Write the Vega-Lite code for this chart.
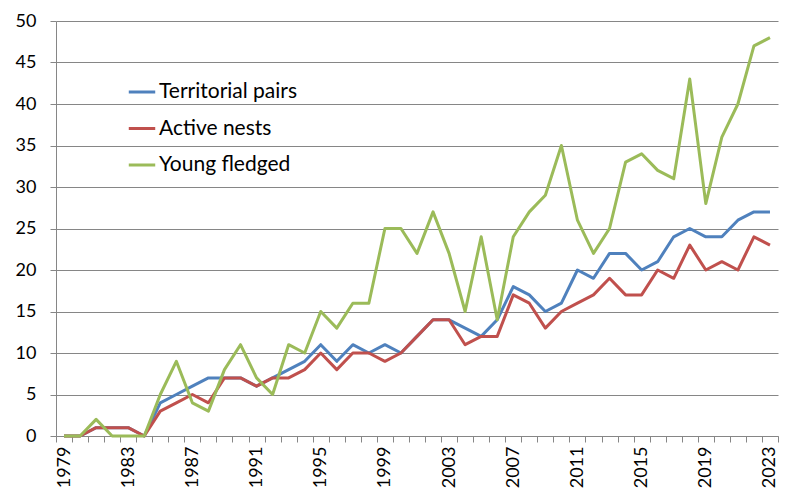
{
  "$schema": "https://vega.github.io/schema/vega-lite/v6.json",
  "width": 722,
  "height": 415,
  "autosize": "none",
  "padding": {"left": 56, "top": 21, "right": 18, "bottom": 61},
  "background": "white",
  "config": {
    "font": "Lato",
    "view": {"stroke": null}
  },
  "datasets": {
    "d": [
      {"year": 1979, "tp": 0, "an": 0, "yf": 0},
      {"year": 1980, "tp": 0, "an": 0, "yf": 0},
      {"year": 1981, "tp": 1, "an": 1, "yf": 2},
      {"year": 1982, "tp": 1, "an": 1, "yf": 0},
      {"year": 1983, "tp": 1, "an": 1, "yf": 0},
      {"year": 1984, "tp": 0, "an": 0, "yf": 0},
      {"year": 1985, "tp": 4, "an": 3, "yf": 5},
      {"year": 1986, "tp": 5, "an": 4, "yf": 9},
      {"year": 1987, "tp": 6, "an": 5, "yf": 4},
      {"year": 1988, "tp": 7, "an": 4, "yf": 3},
      {"year": 1989, "tp": 7, "an": 7, "yf": 8},
      {"year": 1990, "tp": 7, "an": 7, "yf": 11},
      {"year": 1991, "tp": 6, "an": 6, "yf": 7},
      {"year": 1992, "tp": 7, "an": 7, "yf": 5},
      {"year": 1993, "tp": 8, "an": 7, "yf": 11},
      {"year": 1994, "tp": 9, "an": 8, "yf": 10},
      {"year": 1995, "tp": 11, "an": 10, "yf": 15},
      {"year": 1996, "tp": 9, "an": 8, "yf": 13},
      {"year": 1997, "tp": 11, "an": 10, "yf": 16},
      {"year": 1998, "tp": 10, "an": 10, "yf": 16},
      {"year": 1999, "tp": 11, "an": 9, "yf": 25},
      {"year": 2000, "tp": 10, "an": 10, "yf": 25},
      {"year": 2001, "tp": 12, "an": 12, "yf": 22},
      {"year": 2002, "tp": 14, "an": 14, "yf": 27},
      {"year": 2003, "tp": 14, "an": 14, "yf": 22},
      {"year": 2004, "tp": 13, "an": 11, "yf": 15},
      {"year": 2005, "tp": 12, "an": 12, "yf": 24},
      {"year": 2006, "tp": 14, "an": 12, "yf": 14},
      {"year": 2007, "tp": 18, "an": 17, "yf": 24},
      {"year": 2008, "tp": 17, "an": 16, "yf": 27},
      {"year": 2009, "tp": 15, "an": 13, "yf": 29},
      {"year": 2010, "tp": 16, "an": 15, "yf": 35},
      {"year": 2011, "tp": 20, "an": 16, "yf": 26},
      {"year": 2012, "tp": 19, "an": 17, "yf": 22},
      {"year": 2013, "tp": 22, "an": 19, "yf": 25},
      {"year": 2014, "tp": 22, "an": 17, "yf": 33},
      {"year": 2015, "tp": 20, "an": 17, "yf": 34},
      {"year": 2016, "tp": 21, "an": 20, "yf": 32},
      {"year": 2017, "tp": 24, "an": 19, "yf": 31},
      {"year": 2018, "tp": 25, "an": 23, "yf": 43},
      {"year": 2019, "tp": 24, "an": 20, "yf": 28},
      {"year": 2020, "tp": 24, "an": 21, "yf": 36},
      {"year": 2021, "tp": 26, "an": 20, "yf": 40},
      {"year": 2022, "tp": 27, "an": 24, "yf": 47},
      {"year": 2023, "tp": 27, "an": 23, "yf": 48}
    ]
  },
  "data": {"name": "d"},
  "transform": [
    {"fold": ["tp", "an", "yf"], "as": ["key", "value"]},
    {"lookup": "key", "from": {"data": {"values": [
      {"key": "tp", "series": "Territorial pairs", "ord": 0},
      {"key": "an", "series": "Active nests", "ord": 1},
      {"key": "yf", "series": "Young fledged", "ord": 2}
    ]}, "key": "key", "fields": ["series", "ord"]}}
  ],
  "mark": {"type": "line", "strokeWidth": 3, "strokeJoin": "round"},
  "encoding": {
    "x": {
      "field": "year",
      "type": "ordinal",
      "bandPosition": 0.5,
      "scale": {"type": "band", "paddingInner": 0, "paddingOuter": 0},
      "axis": {
        "title": null,
        "tickBand": "extent",
        "labelAngle": -90,
        "labelAlign": "right",
        "labelBaseline": "middle",
        "labelExpr": "(datum.value - 1979) % 4 == 0 ? datum.value : ''",
        "labelFontSize": 18,
        "labelColor": "#000000",
        "labelPadding": 4,
        "labelOverlap": false,
        "tickColor": "#868686",
        "tickSize": 6,
        "domainColor": "#868686",
        "grid": false
      }
    },
    "y": {
      "field": "value",
      "type": "quantitative",
      "scale": {"domain": [0, 50], "nice": false},
      "axis": {
        "title": null,
        "values": [0, 5, 10, 15, 20, 25, 30, 35, 40, 45, 50],
        "labelFontSize": 18,
        "labelColor": "#000000",
        "labelPadding": 14,
        "tickColor": "#868686",
        "tickSize": 6,
        "domainColor": "#868686",
        "gridColor": "#868686",
        "gridWidth": 1
      }
    },
    "color": {
      "field": "series",
      "type": "nominal",
      "scale": {
        "domain": ["Territorial pairs", "Active nests", "Young fledged"],
        "range": ["#4F81BD", "#C0504D", "#9BBB59"]
      },
      "legend": {
        "title": null,
        "orient": "none",
        "legendX": 71,
        "legendY": 56,
        "symbolType": "stroke",
        "symbolStrokeWidth": 3,
        "symbolSize": 700,
        "labelFontSize": 21,
        "labelColor": "#000000",
        "labelOffset": 2,
        "rowPadding": 11.5
      }
    },
    "order": {"field": "ord"}
  }
}
